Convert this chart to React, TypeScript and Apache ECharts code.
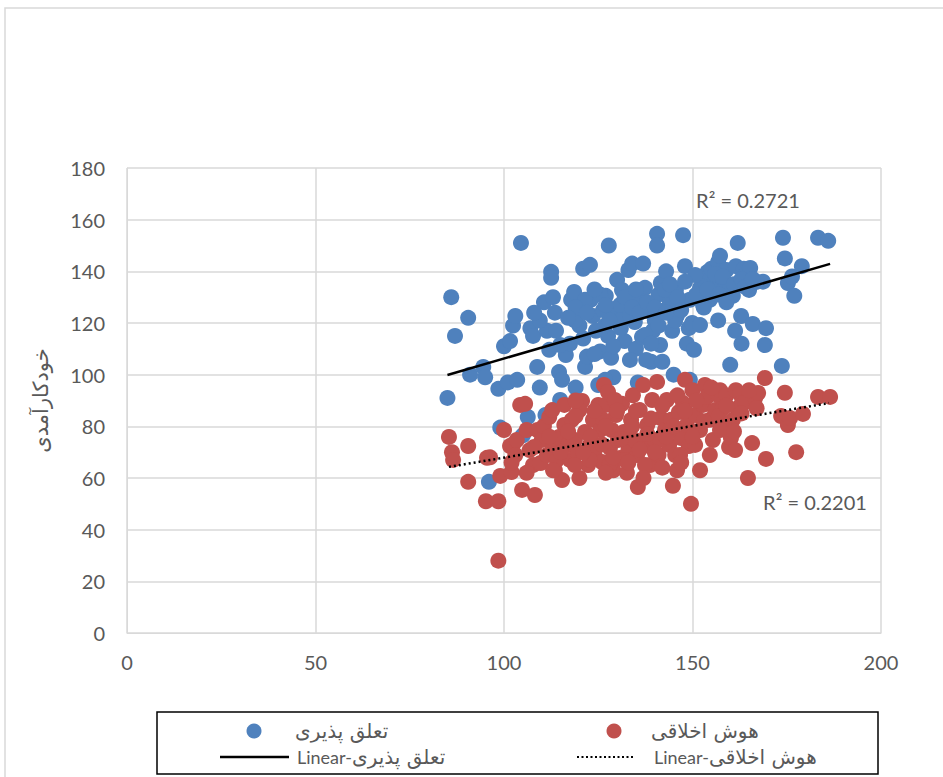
import React, { useEffect, useRef } from "react";
import * as echarts from "echarts";

const xTicks = [0, 50, 100, 150, 200];
const yTicks = [0, 20, 40, 60, 80, 100, 120, 140, 160, 180];

const blueName = "تعلق پذیری";
const redName = "هوش اخلاقی";
const yAxisName = "خودکارآمدی";
const linearPrefix = "Linear-";

const blueX = [85,86,87,90.5,91,94.5,95,96,98.5,99,100,101,101.6,102.4,103,103.5,104.5,105,107,107.7,108.8,109.5,110.6,111.4,112,112.5,112.5,113.5,113.8,114.6,115.4,116.4,117.5,117.8,118.6,119,120,121,121.5,122,122.8,123,123.6,124.4,125,125.5,126.3,127,127.6,127.8,128.4,129,129.7,130,130.8,131.3,132,133,133.7,134,134.7,135,135.5,136,136.6,136.9,137.4,138,139,139.5,140,140.6,140.6,141,141.6,142,142.7,143,144,144.6,145,145.6,145.9,147.5,148,148.5,149,149.3,149.9,150.4,152,152.8,153.3,154,155,156,156.8,157.3,157.8,158.6,159,160,160.7,161.3,161.5,162,162.9,163,163.6,164,165,166,167,168.7,169.2,169.5,173.7,174,174.5,175.3,176.4,177,179,183.3,186,109.5,114.9,118.8,121.5,125.5,126.8,130.8,133.4,137.4,141.4,142.7,145.4,146.7,149.3,150.7,154.6,155.2,160,165.3,156.8,126.8,133.4,137.7,152,106.3,111,114.9,119,122,124,127,128,131,132,134,135,136,138,139,140,141,143,144,146,147,148,151,153,154,156,157,158,159,161,163,164,166,121,124,129,117,113,108];
const blueY = [91,130,115,122,100,103,99,58.5,94.5,79.5,111,97,113,119,122.7,98,151,76.5,118,115,103,95,128,117,109.6,139.8,137.5,124,117,101,98,107.6,112,129,132,95,119,141,103,107,142.5,129,122.7,117,96,109,125,130.5,115,150,106.5,99,125.4,136.7,121,132.8,113,140.5,127.8,143,120.4,110,97,129,114.6,143,133.6,124.7,105,117,121,154.5,150,131,135.5,105,125,140,128.5,117,100,132.8,123,154,142,112,118,98,120,109.6,133.5,127,136.3,139.8,141,136.7,143.6,146,134,132.4,140.5,103.8,130.5,117,142,151,122.7,112,141,138.6,132.8,119.6,135.9,136,111.5,118,103.4,153,145,135.5,138,130.5,142,153,151.8,121,111.5,121,129,131,119,127,123,115.4,111.5,132.8,121,127,129,138.6,129,132.8,134.7,141.3,121,98,105.7,105.7,119.2,83.6,84.4,90.2,126,124,133,127,121,118,130,126,133,124,128,112,126,119,124,135,130,125,136,131,126,133,139,131,138,128,135,137,134,137,114,108,111,122,130,124];

const redX = [85.4,86.2,86.5,90.5,90.5,95.2,95.5,96.3,98.5,98.5,99,100,101.6,102,102.4,103,103.4,104.3,104.8,105.6,106,106.8,107.7,108.2,108.9,109.7,110,110.6,111.4,112,112.8,113,113.5,114,114.6,115.4,116,117,117.5,118,118.8,119.6,120,120.7,121.5,122.3,122.8,123.6,124,125,125.5,126,126.5,127,127.6,128.1,128.6,129,129.7,130.2,130.8,131.3,131.8,132.6,133,133.7,134.2,134.7,135.3,135.5,136,136.9,137.4,138,138.7,139.3,140,140.6,141,141.6,142,142.7,143.2,143.8,144.3,144.8,145.4,145.9,146.4,147,147.5,148,148.5,149,149.6,150,150.7,152,152.8,153.3,153.8,154.6,155.4,156,156.8,157.3,158,158.6,159,159.7,160.2,160.7,161.5,162,162.6,163.1,164,164.7,165.8,166.6,167.4,169.2,169.5,173.5,174.5,175.3,175.9,177.5,179.3,183.3,186.5,116,120,122.8,126.3,129.4,132,137.4,141.4,144,146.7,150.7,154.6,157.3,161.3,152,118.8,113,128,112,115,117,119,121,123,124,126,127,129,130,131,133,134,135,136,138,139,140,142,143,145,146,148,150,151,153,155,157,159,161,163,165,167,119,127,137,147,102,106,108];
const redY = [75.9,70,67,72.4,58.5,51,67.8,68,51,28,60.8,78.6,72.4,62.3,73,68.9,74.7,88.3,55.4,88.7,78.6,70.8,65,53.4,78.6,65.8,74.7,80.1,68.9,83.6,86.3,72,63,67,75.9,59.2,80.5,72.8,67,82.5,74.7,69.7,60,89.8,77.8,65,72.8,82.5,68.9,88.3,78.6,66.2,96,88.3,93.3,71.6,78.6,63,84.4,74.7,67.7,88.7,77.8,62,70.8,82.5,92,74.7,68.9,56.5,86.3,96,72.8,80.5,65,90.2,74.7,97.2,68.9,83.2,64,78.6,90.2,72.8,82.5,57,68.9,63,85.5,75.5,89,98,80.5,72.4,50,94,84.4,78.6,88.3,96,91.4,82.5,74.7,86.3,92,94,87,80.5,92,72,75.5,82.5,94,87,92.5,89,89.4,60,73.5,91,92.9,98.7,67.4,84,93,80.5,83.2,70,84.8,91.4,91.4,88.3,86.3,67,82.5,90.2,67,65,74.7,78.6,68.9,72.8,68.9,78.6,70.8,63,65,63,65,76,70,78,84,70,76,86,73,80,68,86,75,66,80,86,71,77,83,70,88,76,80,92,86,76,90,82,95,84,88,78,85,94,87,90,62,60,66,66,62,72];

const blueTrendX = [85, 186.5];
const blueTrendY = [99.9, 142.9];
const redTrendX = [85.4, 186.2];
const redTrendY = [64.3, 89.0];

const blueR2 = "R² = 0.2721";
const redR2 = "R² = 0.2201";

const BLUE = "#4F81BD";
const RED = "#C0504D";
const GRID = "#d9d9d9";
const TXT = "#595959";
const FONT = "Lato, 'DejaVu Sans', sans-serif";
const FA = "'DejaVu Sans', sans-serif";

const zip = (xs: number[], ys: number[]) => xs.map((x, i) => [x, ys[i]]);

export default function App() {
  const ref = useRef<HTMLDivElement>(null);
  useEffect(() => {
    if (!ref.current) return;
    const chart = echarts.init(ref.current, null, { renderer: "svg" });
    const txt = (x: number, y: number, text: string, font: string, align = "left") => ({
      type: "text",
      x,
      y,
      style: { text, fill: TXT, font, align, verticalAlign: "middle" },
    });
    chart.setOption({
      animation: false,
      backgroundColor: "#ffffff",
      textStyle: { fontFamily: FONT },
      grid: { left: 127, right: 62, top: 168, bottom: 144 },
      xAxis: {
        type: "value",
        min: xTicks[0],
        max: xTicks[xTicks.length - 1],
        interval: 50,
        axisLine: { show: true, lineStyle: { color: GRID, width: 1 } },
        axisTick: { show: false },
        splitLine: { show: true, lineStyle: { color: GRID, width: 1.5 } },
        axisLabel: { color: TXT, fontSize: 20, margin: 19, fontFamily: FONT },
      },
      yAxis: {
        type: "value",
        min: yTicks[0],
        max: yTicks[yTicks.length - 1],
        interval: 20,
        name: yAxisName,
        nameLocation: "middle",
        nameGap: 76,
        nameRotate: 90,
        nameTextStyle: { color: TXT, fontSize: 21, fontFamily: FA },
        axisLine: { show: true, lineStyle: { color: GRID, width: 1 } },
        axisTick: { show: false },
        splitLine: { show: true, lineStyle: { color: GRID, width: 1.5 } },
        axisLabel: { color: TXT, fontSize: 20, margin: 22, fontFamily: FONT },
      },
      series: [
        {
          name: blueName,
          type: "scatter",
          data: zip(blueX, blueY),
          symbol: "circle",
          symbolSize: 16,
          itemStyle: { color: BLUE, opacity: 1 },
          z: 2,
        },
        {
          name: redName,
          type: "scatter",
          data: zip(redX, redY),
          symbol: "circle",
          symbolSize: 16,
          itemStyle: { color: RED, opacity: 1 },
          z: 3,
        },
        {
          name: linearPrefix + blueName,
          type: "line",
          data: zip(blueTrendX, blueTrendY),
          symbol: "none",
          lineStyle: { color: "#000000", width: 2.5, type: "solid" },
          z: 5,
        },
        {
          name: linearPrefix + redName,
          type: "line",
          data: zip(redTrendX, redTrendY),
          symbol: "none",
          lineStyle: { color: "#000000", width: 2.5, type: [2, 3] },
          z: 5,
        },
      ],
      graphic: [
        {
          type: "rect",
          shape: { x: 5, y: 8, width: 1000, height: 820 },
          style: { fill: "none", stroke: GRID, lineWidth: 1.5 },
          silent: true,
          z: -10,
        },
        txt(748, 200, blueR2, `20px ${FONT}`, "center"),
        txt(815, 502, redR2, `20px ${FONT}`, "center"),
        {
          type: "rect",
          shape: { x: 157, y: 712, width: 721, height: 62 },
          style: { fill: "#ffffff", stroke: "#000000", lineWidth: 1.5 },
        },
        { type: "circle", shape: { cx: 254, cy: 731, r: 7.5 }, style: { fill: BLUE } },
        txt(295, 731, blueName, `20px ${FA}`),
        { type: "circle", shape: { cx: 614, cy: 731, r: 7.5 }, style: { fill: RED } },
        txt(651, 731, redName, `20px ${FA}`),
        {
          type: "line",
          shape: { x1: 220, y1: 757, x2: 289, y2: 757 },
          style: { stroke: "#000000", lineWidth: 2.5 },
        },
        txt(297, 757, linearPrefix, `18px ${FONT}`),
        txt(352, 757, blueName, `20px ${FA}`),
        {
          type: "line",
          shape: { x1: 577, y1: 757, x2: 634, y2: 757 },
          style: { stroke: "#000000", lineWidth: 2, lineDash: [2, 2.5] },
        },
        txt(654, 757, linearPrefix, `18px ${FONT}`),
        txt(709, 757, redName, `20px ${FA}`),
      ],
    });
    return () => chart.dispose();
  }, []);
  return (
    <div
      ref={ref}
      style={{ position: "fixed", left: 0, top: 0, width: 943, height: 777, background: "#fff" }}
    />
  );
}
